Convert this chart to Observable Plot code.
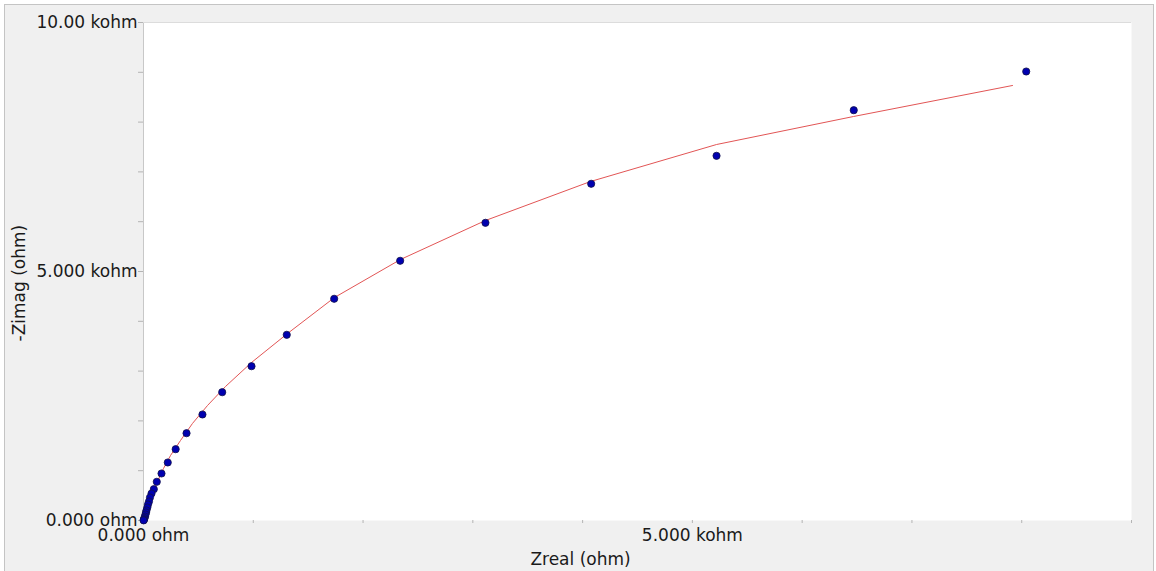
<!DOCTYPE html>
<html>
<head>
<meta charset="utf-8">
<script src="https://cdn.jsdelivr.net/npm/d3@7"></script>
<script src="https://cdn.jsdelivr.net/npm/@observablehq/plot@0.6"></script>
<style>
  html, body { margin: 0; padding: 0; background: #ffffff; }
  body { position: relative; width: 1156px; height: 571px; overflow: hidden; }
  #frame { position: absolute; left: 4px; top: 4px; width: 1150px; height: 570px;
           background: #f0f0f0; border: 1px solid #c4c4c4; border-bottom: none; box-sizing: border-box; }
  #chart { position: absolute; left: 0; top: 0; }
  #chart svg { background: transparent; }
</style>
</head>
<body>
<div id="frame"></div>
<div id="chart"></div>
<script>
// Measured data points (Zreal, -Zimag) in ohm
const zreal = [8041, 6470, 5220, 4078, 3115, 2338, 1737, 1305, 984, 717, 537, 392, 293, 221, 164, 121, 94, 73, 59, 50, 41, 35, 27, 23, 18, 14, 9, 5, 3, 1];
const zimag = [9016, 8239, 7323, 6761, 5978, 5215, 4452, 3729, 3098, 2576, 2129, 1753, 1432, 1165, 944, 777, 629, 542, 462, 382, 321, 261, 201, 161, 120, 80, 50, 26, 10, 3];

// Fitted curve (Zreal, -Zimag) in ohm
const fitReal = [0, 18, 46, 82, 128, 182, 246, 337, 446, 583, 747, 984, 1312, 1740, 2341, 3115, 4072, 5220, 6467, 7916];
const fitImag = [0, 161, 341, 562, 783, 1044, 1305, 1606, 1948, 2309, 2691, 3173, 3755, 4478, 5241, 6024, 6807, 7550, 8112, 8735];

// Axis ticks and labels
const xTicks = [0, 1000, 2000, 3000, 4000, 5000, 6000, 7000, 8000, 9000];
const xTickLabels = ["0.000 ohm", "", "", "", "", "5.000 kohm", "", "", "", ""];
const yTicks = [0, 1000, 2000, 3000, 4000, 5000, 6000, 7000, 8000, 9000, 10000];
const yTickLabels = ["0.000 ohm", "", "", "", "", "5.000 kohm", "", "", "", "", "10.00 kohm"];
const xTitle = "Zreal (ohm)";
const yTitle = "-Zimag (ohm)";

const points = zreal.map((x, i) => ({x, y: zimag[i]}));
const fit = fitReal.map((x, i) => ({x, y: fitImag[i]}));

const xLab = new Map(xTicks.map((t, i) => [t, xTickLabels[i]]));
const yLab = new Map(yTicks.map((t, i) => [t, yTickLabels[i]]));

const plot = Plot.plot({
  width: 1156,
  height: 571,
  marginLeft: 143,
  marginRight: 25,
  marginTop: 22,
  marginBottom: 51,
  style: {fontFamily: "'DejaVu Sans', sans-serif", fontSize: "17px", color: "#1a1a1a", background: "transparent"},
  x: {domain: [0, 9000]},
  y: {domain: [0, 10000]},
  marks: [
    Plot.frame({fill: "white", stroke: null}),
    Plot.ruleX([0], {stroke: "#c8c8c8", strokeWidth: 1}),
    Plot.ruleY([10000], {stroke: "#dcdcdc", strokeWidth: 1}),
    Plot.axisX({ticks: xTicks, tickFormat: d => xLab.get(d), tickSize: 3, tickPadding: 5, stroke: "#b4b4b4", label: null, fontSize: 17}),
    Plot.axisY({ticks: yTicks, tickFormat: d => yLab.get(d), tickSize: 5, tickPadding: 1, stroke: "#b4b4b4", label: null, fontSize: 17}),
    Plot.line(fit, {x: "x", y: "y", stroke: "#e25555", strokeWidth: 1}),
    Plot.dot(points, {x: "x", y: "y", r: 3.6, fill: "#0000b0", stroke: "#10104a", strokeWidth: 0.8}),
    Plot.text([xTitle], {frameAnchor: "bottom", dx: -57, dy: 44, fontSize: 17, fill: "#1a1a1a"}),
    Plot.text([yTitle], {frameAnchor: "left", dx: -124, dy: 70, rotate: -90, fontSize: 17, fill: "#1a1a1a"})
  ]
});
document.getElementById("chart").appendChild(plot);
</script>
</body>
</html>
